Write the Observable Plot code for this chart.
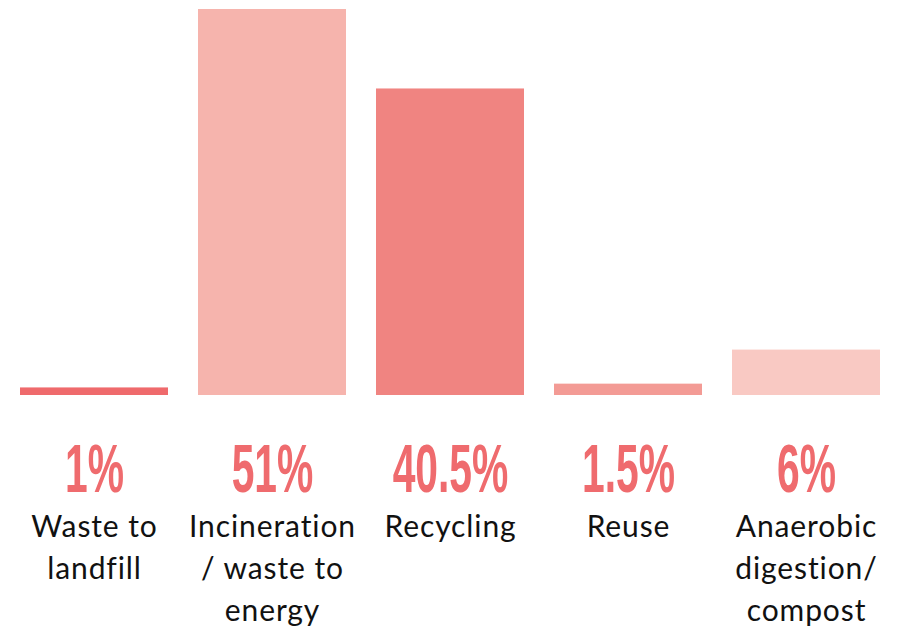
<!DOCTYPE html>
<html>
<head>
<meta charset="utf-8">
<script src="https://cdn.jsdelivr.net/npm/d3@7"></script>
<script src="https://cdn.jsdelivr.net/npm/@observablehq/plot@0.6"></script>
<style>
  html, body { margin: 0; padding: 0; background: #fff; }
  #chart { width: 897px; height: 629px; }
</style>
</head>
<body>
<div id="chart"></div>
<script>
const categories = ["Waste to\nlandfill", "Incineration\n/ waste to\nenergy", "Recycling", "Reuse", "Anaerobic\ndigestion/\ncompost"];
const values = [1, 51, 40.5, 1.5, 6];
const valueLabels = ["1%", "51%", "40.5%", "1.5%", "6%"];
const colors = ["#ef6a6c", "#f6b4ad", "#f08481", "#f39b95", "#f9c9c3"];

const data = categories.map((c, i) => ({ category: c, value: values[i], label: valueLabels[i], color: colors[i] }));

const plot = Plot.plot({
  width: 897,
  height: 629,
  marginTop: 9,
  marginBottom: 234,
  marginLeft: 20,
  marginRight: 16,
  x: { domain: categories, paddingInner: 0.167, paddingOuter: 0, axis: null },
  y: { domain: [0, 51], axis: null },
  marks: [
    Plot.barY(data, { x: "category", y: "value", fill: "color" }),
    Plot.text(data, {
      x: "category", y: () => 0, text: "label",
      dy: 96, lineAnchor: "bottom",
      fill: "#ef6b6e", fontSize: 68, fontWeight: "bold",
      fontFamily: "'Liberation Sans', Arial, sans-serif"
    }),
    Plot.text(data, {
      x: "category", y: () => 0, text: "category",
      dy: 112, lineAnchor: "top", lineHeight: 1.4,
      fill: "#111", fontSize: 30,
      fontFamily: "Lato, 'Noto Sans', sans-serif"
    })
  ]
});
d3.select(plot).selectAll("text").style("letter-spacing", "0.9px");
document.getElementById("chart").appendChild(plot);

// Condense the percentage labels horizontally to mimic a narrow display face
d3.select(plot).selectAll("text").filter(function () {
  return /%$/.test(this.textContent.trim());
}).each(function () {
  const t = d3.select(this).style("letter-spacing", null);
  const tr = t.attr("transform");
  if (tr) {
    t.attr("transform", `${tr} scale(0.6,1)`);
  } else {
    const x = +t.attr("x") || 0, y = +t.attr("y") || 0;
    t.attr("transform", `translate(${x},${y}) scale(0.6,1) translate(${-x},${-y})`);
  }
});
</script>
</body>
</html>
